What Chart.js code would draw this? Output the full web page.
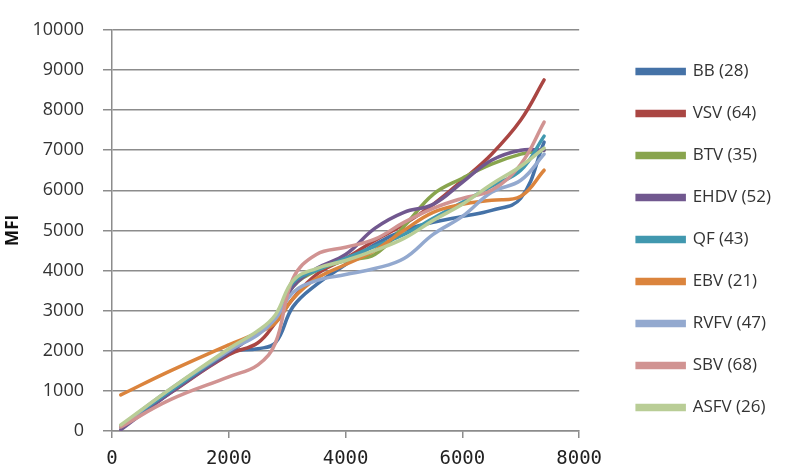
<!DOCTYPE html>
<html>
<head>
<meta charset="utf-8">
<script src="https://cdn.jsdelivr.net/npm/chart.js@4.4.0/dist/chart.umd.min.js"></script>
<style>
  body { margin: 0; background: #fff; }
  #wrap { width: 787px; height: 470px; position: relative; }
</style>
</head>
<body>
<div id="wrap"><canvas id="myChart"></canvas></div>
<script>
// x positions shared by every series
const xValues = [150, 1000, 2000, 2500, 2800, 3100, 3500, 4000, 4500, 5000, 5500, 6000, 6500, 7000, 7400];

const seriesNames = ["BB (28)", "VSV (64)", "BTV (35)", "EHDV (52)", "QF (43)", "EBV (21)", "RVFV (47)", "SBV (68)", "ASFV (26)"];
const seriesColors = ["#4572A7", "#AA4643", "#89A54E", "#71588F", "#4198AF", "#DB843D", "#93A9CF", "#D19392", "#B9CD96"];

const bb   = [100, 1000, 1950, 2050, 2200, 3100, 3650, 4150, 4650, 5000, 5200, 5350, 5500, 5800, 7200];
const vsv  = [100, 950, 1900, 2200, 2700, 3300, 3900, 4300, 4750, 5150, 5650, 6250, 6900, 7750, 8750];
const btv  = [100, 1000, 2000, 2450, 2850, 3600, 4000, 4250, 4400, 5100, 5900, 6300, 6650, 6900, 7000];
const ehdv = [30, 950, 1950, 2450, 2800, 3600, 4050, 4400, 5050, 5450, 5650, 6200, 6750, 7000, 7000];
const qf   = [120, 1000, 2000, 2450, 2800, 3700, 4000, 4300, 4600, 4900, 5300, 5700, 6100, 6500, 7350];
const ebv  = [900, 1500, 2150, 2450, 2700, 3300, 3800, 4150, 4500, 5000, 5450, 5650, 5750, 5850, 6500];
const rvfv = [120, 1050, 2000, 2400, 2800, 3450, 3750, 3900, 4050, 4300, 4900, 5350, 5950, 6250, 6900];
const sbv  = [100, 780, 1350, 1650, 2200, 3800, 4400, 4580, 4780, 5200, 5550, 5800, 6000, 6650, 7700];
const asfv = [150, 1050, 2050, 2500, 2900, 3750, 4050, 4250, 4500, 4800, 5250, 5650, 6150, 6600, 7050];

const allSeries = [bb, vsv, btv, ehdv, qf, ebv, rvfv, sbv, asfv];

const gridColor = "#8c8c8c";

const datasets = allSeries.map((ys, i) => ({
    label: seriesNames[i],
    data: xValues.map((x, j) => ({ x: x, y: ys[j] })),
    borderColor: seriesColors[i],
    backgroundColor: seriesColors[i],
    borderWidth: 3.5,
    borderCapStyle: "round",
    pointRadius: 0,
    tension: 0.4,
    fill: false,
    yAxisID: "y",
    order: allSeries.length - i   // later series drawn on top, like Excel
}));

new Chart("myChart", {
    type: "line",
    data: { datasets: datasets },
    options: {
        responsive: true,
        maintainAspectRatio: false,
        animation: false,
        layout: { autoPadding: false, padding: { left: 3, top: 9, right: 6, bottom: 0 } },
        plugins: {
            tooltip: { enabled: false },
            legend: {
                position: "right",
                maxWidth: 200,
                labels: {
                    boxWidth: 47,
                    boxHeight: 4,
                    padding: 25,
                    color: "#333",
                    font: { family: "Open Sans", size: 17 },
                    sort: (a, b) => a.datasetIndex - b.datasetIndex
                }
            }
        },
        scales: {
            x: {
                type: "linear",
                min: 0,
                max: 8000,
                afterFit: (s) => { s.height = 39; },
                ticks: {
                    stepSize: 2000,
                    color: "#222",
                    padding: 10,
                    font: { family: "DejaVu Sans Mono", size: 19 },
                    callback: (v) => String(v)
                },
                grid: { display: true, drawOnChartArea: false, drawTicks: true, tickLength: 7, color: gridColor, lineWidth: 1.5 },
                border: { display: true, color: gridColor, width: 1.5 }
            },
            y: {
                min: 0,
                max: 10000,
                afterFit: (s) => { s.width = 109; },
                ticks: {
                    stepSize: 1000,
                    color: "#333",
                    padding: 19,
                    font: { family: "Open Sans", size: 18 },
                    callback: (v) => String(v)
                },
                title: {
                    display: true,
                    text: "MFI",
                    color: "#111",
                    padding: { top: 0, bottom: 0 },
                    font: { family: "Open Sans", size: 17, weight: "bold" }
                },
                grid: { color: gridColor, lineWidth: 1.5, tickLength: 9 },
                border: { display: true, color: gridColor, width: 1.5 }
            },
            // empty spacer between plot and legend
            gap: {
                position: "right",
                display: true,
                afterFit: (s) => { s.width = 33; },
                ticks: { display: false },
                grid: { display: false },
                border: { display: false }
            }
        }
    }
});
</script>
</body>
</html>
